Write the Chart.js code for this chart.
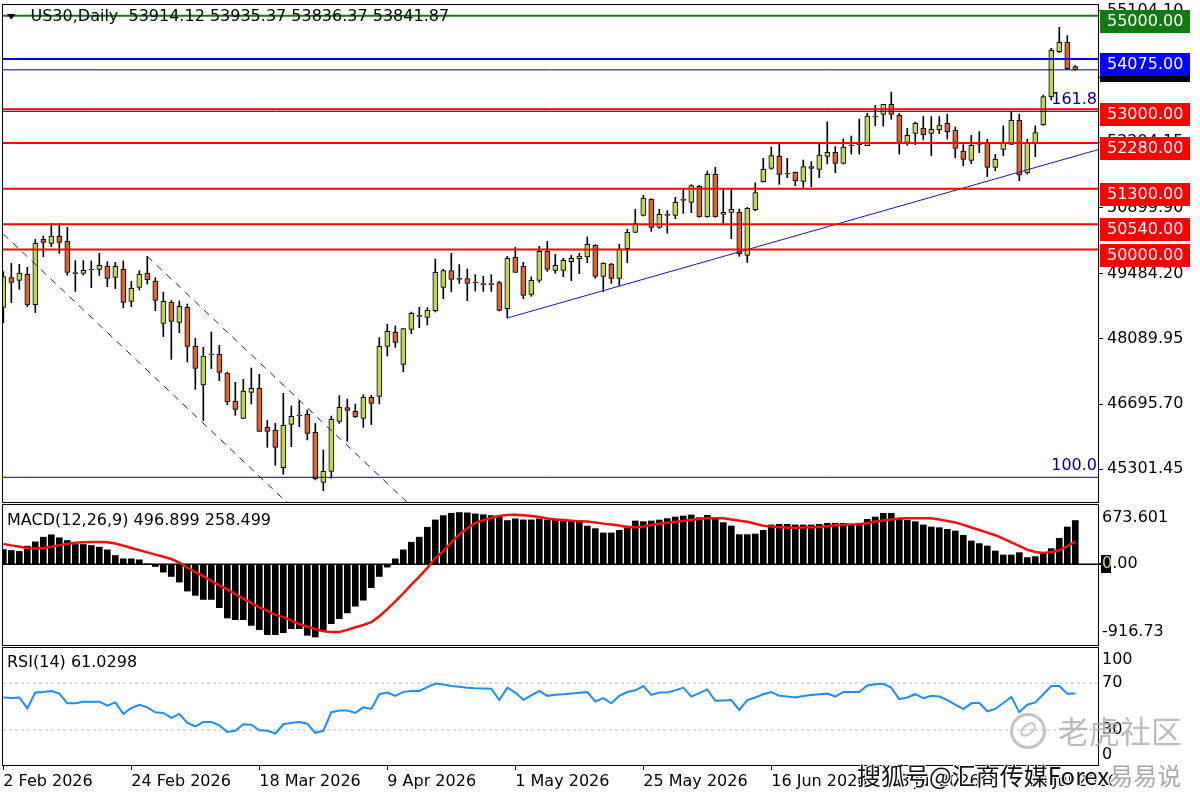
<!DOCTYPE html>
<html>
<head>
<meta charset="utf-8">
<script src="https://cdn.jsdelivr.net/npm/chart.js@4.4.1/dist/chart.umd.min.js"></script>
<style>
  html, body { margin:0; padding:0; background:#fff; }
  body { width:1200px; height:800px; position:relative; overflow:hidden; }
  canvas { position:absolute; left:0; }
  .wm { position:absolute; white-space:nowrap; font-family:"Noto Sans CJK SC", sans-serif; line-height:1; }
</style>
</head>
<body>
<canvas id="cPrice" width="1200" height="503" style="top:0px"></canvas>
<canvas id="cMacd" width="1200" height="145" style="top:503px"></canvas>
<canvas id="cRsi" width="1200" height="154" style="top:646px"></canvas>
<div class="wm" style="left:1010px;top:713px;width:30px;height:30px;border:3px solid rgba(185,185,185,0.85);border-radius:50%;"></div>
<div class="wm" style="left:1019px;top:724px;width:14px;height:7px;border:2px solid rgba(185,185,185,0.85);border-radius:50%;transform:rotate(-40deg);"></div>
<div class="wm" style="left:1058px;top:714px;font-size:31px;color:rgba(170,170,170,0.8);">老虎社区</div>
<div class="wm" style="left:857px;top:763px;font-size:24px;color:#111;text-shadow:1px 1px 0 #fff,-1px -1px 0 #fff,1px -1px 0 #fff,-1px 1px 0 #fff;">搜狐号@汇商传媒Forex<span style="color:#a8a8a8;">易易说</span></div>
<script>
// ---------------- DATA ----------------
const symbolName = 'US30,Daily';

const open = [
  48763, 49398, 49341, 49469, 48820, 50217, 50132, 50282, 50175, 49490,
  49490, 49569, 49576, 49647, 49405, 49576, 48891, 49191, 49497, 49326,
  48421, 48877, 48442, 48763, 47936, 47102, 47758, 47758, 47359, 46753,
  46389, 46945, 47038, 46197, 46140, 45334, 46261, 46453, 46475, 46090,
  45020, 45256, 46325, 46617, 46539, 46389, 46838, 46860, 47929, 48229,
  47544, 48293, 48585, 48549, 48692, 49191, 49547, 49376, 49376, 49298,
  49262, 49262, 49291, 48735, 49832, 49640, 49041, 49341, 49961, 49554,
  49554, 49740, 49804, 49840, 50089, 49426, 49690, 49383, 50018, 50367,
  50731, 51073, 50474, 50745, 50731, 51066, 51009, 51351, 50702, 51607,
  50752, 50795, 50795, 49875, 50852, 51451, 51736, 51992, 51629, 51650,
  51458, 51771, 51715, 51992, 52078, 51843, 52228, 52242, 52221, 52848,
  52891, 53104, 52869, 52292, 52484, 52598, 52484, 52563, 52698, 52549,
  52099, 51907, 52271, 52285, 51757, 52142, 52249, 52762, 51636, 52285,
  52670, 53269, 54231, 54431, 53914.12
];
const high = [
  49526, 49704, 49683, 49619, 50217, 50289, 50560, 50560, 50474, 49761,
  49761, 49754, 49918, 49740, 49725, 49754, 49319, 49547, 49854, 49398,
  49084, 48906, 48899, 48834, 48100, 47908, 48236, 47950, 47380, 47159,
  47223, 47466, 47330, 46346, 46282, 46924, 46653, 46767, 46567, 46282,
  45712, 46439, 46874, 46803, 46696, 46895, 46881, 48114, 48400, 48364,
  48314, 48663, 48763, 48756, 49797, 49576, 49918, 49676, 49583, 49462,
  49426, 49462, 49319, 49854, 50046, 49726, 49412, 50068, 50175, 49897,
  49811, 49875, 49918, 50267, 50103, 49718, 49704, 50110, 50431, 50859,
  51158, 51087, 50859, 50830, 51116, 51301, 51386, 51372, 51679, 51757,
  51301, 51294, 50866, 50902, 51429, 51950, 52192, 52263, 51950, 51657,
  51914, 51878, 52271, 52727, 52199, 52363, 52427, 52791, 52912, 53083,
  53104, 53368, 52912, 52591, 52727, 52848, 52841, 52841, 52891, 52620,
  52242, 52441, 52520, 52356, 52035, 52641, 52941, 52891, 52356, 52641,
  53304, 54302, 54751, 54573, 53935.37
];
const low = [
  48435, 48863, 49148, 48777, 48649, 49847, 50061, 49918, 49448, 49105,
  49455, 49184, 49448, 49205, 49162, 48756, 48777, 49134, 49262, 48692,
  48136, 47651, 48221, 47594, 47009, 46339, 47451, 47195, 46682, 46453,
  46389, 46696, 46111, 45769, 45384, 45192, 45783, 46211, 45926, 45071,
  44842, 45106, 46282, 45897, 46404, 46197, 46254, 46696, 47722, 47908,
  47387, 48200, 48328, 48385, 48663, 48949, 49098, 49276, 48906, 49112,
  49105, 49105, 48685, 48535, 49512, 48949, 48998, 49298, 49533, 49490,
  49419, 49333, 49483, 49718, 49383, 49098, 49276, 49234, 49718, 50360,
  50716, 50388, 50453, 50346, 50659, 50773, 50788, 50688, 50688, 50688,
  50574, 50232, 49854, 49725, 50830, 51444, 51714, 51394, 51536, 51365,
  51330, 51344, 51536, 51829, 51643, 51829, 52042, 52042, 52221, 52648,
  52641, 52784, 52042, 52228, 52242, 52342, 52007, 52477, 52363, 51964,
  51793, 51836, 52071, 51558, 51686, 52007, 52249, 51472, 51615, 51985,
  52655, 53197, 54210, 53846, 53836.37
];
const close = [
  49419, 49298, 49497, 48813, 50132, 50153, 50289, 50153, 49512, 49483,
  49554, 49562, 49661, 49383, 49640, 48870, 49169, 49476, 49348, 48913,
  48891, 48464, 48784, 47929, 47459, 47722, 47744, 47373, 46746, 46582,
  46974, 47031, 46111, 46111, 45769, 46239, 46432, 46439, 46069, 45092,
  45256, 46368, 46625, 46560, 46425, 46838, 46710, 47929, 48250, 48015,
  48307, 48635, 48571, 48699, 49512, 49547, 49362, 49362, 49276, 49284,
  49248, 49248, 48699, 49811, 49512, 49020, 49341, 49961, 49576, 49661,
  49768, 49811, 49861, 50110, 49426, 49704, 49383, 50010, 50367, 50559,
  51101, 50474, 50752, 50731, 51009, 51052, 51365, 50702, 51607, 50702,
  50795, 50859, 49904, 50880, 51215, 51714, 52007, 51607, 51614, 51465,
  51771, 51736, 52021, 52078, 51843, 52192, 52213, 52271, 52855, 52834,
  53104, 52891, 52278, 52442, 52698, 52456, 52570, 52663, 52520, 52164,
  51928, 52228, 52249, 51757, 51928, 52271, 52762, 51593, 52285, 52499,
  53269, 54259, 54431, 53867, 53841.87
];

const macdHist = [
  168, 157, 146, 206, 255, 308, 335, 301, 270, 225,
  225, 214, 195, 164, 100, 62, 62, 51, 6, -25,
  -89, -138, -202, -304, -353, -399, -399, -493, -610, -629,
  -629, -694, -743, -799, -799, -777, -731, -731, -807, -826,
  -750, -674, -617, -552, -476, -408, -265, -138, -32, 62,
  164, 251, 308, 421, 504, 553, 580, 588, 584, 572,
  563, 553, 534, 497, 516, 504, 504, 516, 504, 511,
  500, 492, 484, 435, 405, 356, 356, 386, 435, 492,
  484, 492, 503, 519, 537, 548, 560, 530, 556, 511,
  473, 435, 337, 337, 344, 386, 447, 454, 454, 447,
  447, 447, 454, 466, 466, 466, 454, 466, 511, 537,
  579, 579, 511, 500, 484, 447, 424, 416, 397, 378,
  329, 265, 235, 208, 151, 106, 106, 132, 76, 87,
  114, 178, 295, 424, 496.899
];
const macdSignal = [
  232, 215, 200, 186, 176, 185, 200, 218, 233, 244,
  250, 252, 253, 251, 236, 212, 185, 160, 135, 110,
  85, 60, 20, -40, -90, -135, -190, -240, -285, -340,
  -390, -440, -490, -530, -575, -600, -640, -680, -710, -735,
  -762, -770, -768, -745, -715, -690, -656, -590, -510, -420,
  -330, -230, -140, -40, 70, 150, 250, 340, 410, 470,
  500, 528, 548, 560, 562, 556, 548, 538, 520, 510,
  502, 496, 490, 485, 475, 462, 452, 440, 422, 420,
  430, 446, 460, 472, 482, 492, 505, 515, 522, 524,
  522, 510, 495, 484, 460, 437, 428, 422, 418, 416,
  418, 420, 424, 432, 444, 450, 452, 455, 468, 485,
  498, 510, 520, 524, 524, 523, 522, 510, 492, 476,
  448, 418, 390, 360, 330, 292, 250, 210, 165, 140,
  128, 140, 160, 205, 258.499
];
const rsi = [
  57.7, 57.3, 57.7, 48.5, 62.0, 62.4, 63.3, 61.0, 52.7, 52.7,
  54.0, 54.1, 54.1, 50.7, 53.5, 43.7, 48.7, 51.5, 49.3, 45.1,
  44.5, 40.3, 43.7, 35.9, 33.1, 36.7, 36.7, 33.9, 28.3, 29.2,
  34.8, 34.5, 29.7, 29.2, 26.9, 34.8, 36.0, 36.7, 35.3, 27.5,
  29.2, 45.1, 46.5, 46.5, 44.5, 49.3, 47.9, 60.5, 61.9, 59.1,
  62.5, 63.3, 63.3, 66.5, 69.7, 68.9, 67.5, 66.9, 66.0, 65.5,
  65.3, 65.2, 55.5, 66.1, 61.9, 55.7, 59.5, 63.3, 59.1, 60.0,
  60.5, 61.2, 61.8, 62.4, 54.3, 57.1, 52.7, 59.1, 62.4, 63.8,
  67.5, 59.9, 61.9, 61.9, 63.8, 66.1, 58.5, 61.5, 64.6, 54.9,
  55.2, 55.5, 47.1, 55.5, 57.7, 60.5, 62.4, 59.1, 58.5, 57.7,
  59.0, 59.9, 60.5, 61.0, 58.5, 62.4, 62.4, 62.4, 68.0, 69.0,
  69.4, 66.1, 56.3, 57.7, 60.5, 57.1, 59.1, 58.5, 55.5, 51.5,
  47.9, 52.7, 53.2, 45.9, 47.9, 53.0, 58.2, 45.1, 51.5, 53.5,
  60.5, 67.5, 67.5, 61.0, 61.0298
];

const dateLabels = ['2 Feb 2026', '24 Feb 2026', '18 Mar 2026', '9 Apr 2026', '1 May 2026',
                    '25 May 2026', '16 Jun 2026', '8 Jul 2026', '30 Jul 2026'];
const dateIndex = [0, 16, 32, 48, 64, 80, 96, 112, 128];

const priceTickValues = [45301.45, 46695.70, 48089.95, 49484.20, 50899.90, 52294.15, 53688.40, 55104.10];
const levelValues = [55000, 54075, 53000, 52280, 51300, 50540, 50000];
const fibValues = [45128, 52955];
const fibLabels = ['100.0', '161.8'];
const trendAnchorX = [63, 134];
const trendAnchorY = [48535, 51997];
const channelUpperX = [18, 30];
const channelUpperY = [49854, 47911];
const channelLowerX = [0, 12];
const channelLowerY = [50331, 48388];

const macdAxisValues = [673.601, 0, -916.73];
const macdAxisLabels = ['673.601', '0.00', '-916.73'];
const rsiAxisValues = [100, 70, 30, 0];
const rsiLevels = [70, 30];

// ---------------- STYLE ----------------
const FONT = '16px "DejaVu Sans"';
const BULL = '#c4d455';
const BEAR = '#e3632d';
const FIB_COLOR = '#000080';
const levelColors = ['#127a12', '#0000ff', '#ff0000', '#ff0000', '#ff0000', '#ff0000', '#ff0000'];
const levelWidths = [2, 2, 2, 2, 2, 2, 2];
const X_MIN = -0.04, X_MAX = 136.84;
const PRICE_MIN = 44600, PRICE_MAX = 55229;

Chart.defaults.font.family = '"DejaVu Sans", sans-serif';
Chart.defaults.font.size = 16;
Chart.defaults.color = '#000';

const idx = open.map((_, i) => i);
const clamp = (v, a, b) => Math.max(a, Math.min(b, v));

function hline(v, color, width, dash, order) {
  return { type: 'line', data: [{ x: X_MIN, y: v }, { x: X_MAX, y: v }], borderColor: color,
           borderWidth: width, borderDash: dash || [], pointRadius: 0, order: order === undefined ? -1 : order };
}
function ray(xs, ys, color, width, dash) {
  const s = (ys[1] - ys[0]) / (xs[1] - xs[0]);
  return { type: 'line', data: [{ x: xs[0], y: ys[0] }, { x: X_MAX, y: ys[0] + s * (X_MAX - xs[0]) }],
           borderColor: color, borderWidth: width, borderDash: dash || [], pointRadius: 0, order: -1 };
}
function frame(chart) {
  const { ctx, chartArea: a } = chart;
  ctx.save();
  ctx.strokeStyle = '#000';
  ctx.lineWidth = 1;
  ctx.strokeRect(Math.round(a.left) - 0.5, Math.round(a.top) - 0.5,
                 Math.round(a.right - a.left) + 1, Math.round(a.bottom - a.top) + 1);
  ctx.restore();
}
const rightAxisFit = function (s) { s.width = 102; s.paddingTop = 0; s.paddingBottom = 0; };
const hiddenY = (min, max) => ({
  position: 'right', min: min, max: max, afterFit: rightAxisFit,
  ticks: { display: false }, grid: { display: false }, border: { display: false }
});
const hiddenX = { type: 'linear', min: X_MIN, max: X_MAX, display: false, offset: false };

// ---------------- PRICE PANEL ----------------
const pricePlugin = {
  id: 'priceDecor',
  afterDraw(chart) {
    frame(chart);
    const { ctx, chartArea: a, scales: { y } } = chart;
    const n = close.length - 1;
    ctx.save();
    ctx.font = FONT;
    ctx.textBaseline = 'middle';
    ctx.fillStyle = '#000';
    ctx.beginPath(); ctx.moveTo(7, 14); ctx.lineTo(15.5, 14); ctx.lineTo(11.25, 19.5); ctx.closePath(); ctx.fill();
    ctx.fillText(symbolName + '  ' + open[n].toFixed(2) + ' ' + high[n].toFixed(2) + ' ' +
                 low[n].toFixed(2) + ' ' + close[n].toFixed(2), 30.5, 17);
    ctx.fillStyle = FIB_COLOR;
    ctx.textAlign = 'right';
    fibValues.forEach((v, k) => ctx.fillText(fibLabels[k], a.right - 1, y.getPixelForValue(v) - 11));
    ctx.textAlign = 'left';
    const box = (v, color, dy) => {
      const py = y.getPixelForValue(v);
      ctx.fillStyle = color;
      ctx.fillRect(a.right + 2, Math.round(py + dy), 90, 23);
      ctx.fillStyle = '#fff';
      ctx.fillText(v.toFixed(2), a.right + 9, Math.round(py + dy) + 12);
    };
    box(close[n], '#000', -11);
    levelValues.forEach((v, k) => box(v, levelColors[k], -6));
    ctx.restore();
  }
};

const priceDatasets = [];
levelValues.forEach((v, k) => priceDatasets.push(hline(v, levelColors[k], levelWidths[k])));
priceDatasets.push(hline(close[close.length - 1], FIB_COLOR, 1));
fibValues.forEach(v => priceDatasets.push(hline(v, FIB_COLOR, 1)));
priceDatasets.push(ray(trendAnchorX, trendAnchorY, '#1414b4', 1));
priceDatasets.push(ray(channelUpperX, channelUpperY, '#1a1aa0', 1, [7, 6]));
priceDatasets.push(ray(channelLowerX, channelLowerY, '#1a1aa0', 1, [7, 6]));
priceDatasets.push({
  type: 'bar', data: idx.map(i => ({ x: i, y: [open[i], close[i]] })),
  backgroundColor: idx.map(i => close[i] >= open[i] ? BULL : BEAR),
  borderColor: '#000', borderWidth: 1, borderSkipped: false,
  barThickness: 5, minBarLength: 1, grouped: false, order: 0
});
priceDatasets.push({
  type: 'bar', data: idx.map(i => ({ x: i, y: [low[i], high[i]] })),
  backgroundColor: '#000', borderWidth: 0, barThickness: 1, grouped: false, order: 1
});

new Chart(document.getElementById('cPrice'), {
  type: 'bar',
  data: { datasets: priceDatasets },
  options: {
    responsive: false, animation: false, devicePixelRatio: 1,
    layout: { padding: { top: 5, left: 3, right: 0, bottom: 1 } },
    plugins: { legend: { display: false }, tooltip: { enabled: false } },
    scales: {
      x: hiddenX,
      y: {
        position: 'right', min: PRICE_MIN, max: PRICE_MAX, afterFit: rightAxisFit,
        afterBuildTicks(s) { s.ticks = priceTickValues.map(v => ({ value: v })); },
        ticks: { autoSkip: false, padding: 4, color: '#000', font: { size: 16 },
                 callback: v => Number(v).toFixed(2) },
        grid: { drawOnChartArea: false, tickLength: 5, color: '#000' },
        border: { display: true, color: '#000' }
      }
    }
  },
  plugins: [pricePlugin]
});

// ---------------- MACD PANEL ----------------
const macdPlugin = {
  id: 'macdDecor',
  afterDraw(chart) {
    frame(chart);
    const { ctx, chartArea: a, scales: { y } } = chart;
    const n = macdHist.length - 1;
    ctx.save();
    ctx.font = FONT; ctx.textBaseline = 'middle'; ctx.fillStyle = '#000';
    ctx.fillText('MACD(12,26,9) ' + macdHist[n].toFixed(3) + ' ' + macdSignal[n].toFixed(3), 7, a.top + 16);
    macdAxisValues.forEach((v, k) => {
      const py = clamp(y.getPixelForValue(v), a.top + 13, a.bottom - 13);
      ctx.fillStyle = '#000';
      ctx.fillText(macdAxisLabels[k], a.right + 4, py);
      if (v === 0) {
        ctx.fillRect(a.right, Math.round(py) - 1, 3, 2);
        ctx.fillRect(a.right + 3, Math.round(py) - 9, 10, 18);
        ctx.fillStyle = '#d9cc8a';
        ctx.fillText('0', a.right + 4, py);
      }
    });
    ctx.restore();
  }
};
new Chart(document.getElementById('cMacd'), {
  type: 'bar',
  data: { datasets: [
    { type: 'line', data: idx.map(i => ({ x: i, y: macdSignal[i] })), borderColor: '#f01010',
      borderWidth: 2.5, pointRadius: 0, order: -1 },
    { type: 'bar', data: idx.map(i => ({ x: i, y: macdHist[i] })), backgroundColor: '#000',
      barThickness: 6, grouped: false, order: 0 },
    hline(0, '#000', 1.5, [], 1)
  ] },
  options: {
    responsive: false, animation: false, devicePixelRatio: 1,
    layout: { padding: { top: 2, left: 3, right: 0, bottom: 3 } },
    plugins: { legend: { display: false }, tooltip: { enabled: false } },
    scales: { x: hiddenX, y: hiddenY(macdAxisValues[2], macdAxisValues[0]) }
  },
  plugins: [macdPlugin]
});

// ---------------- RSI PANEL ----------------
const rsiPlugin = {
  id: 'rsiDecor',
  afterDraw(chart) {
    frame(chart);
    const { ctx, chartArea: a, scales: { y } } = chart;
    const n = rsi.length - 1;
    ctx.save();
    ctx.font = FONT; ctx.textBaseline = 'middle'; ctx.fillStyle = '#000';
    ctx.fillText('RSI(14) ' + rsi[n].toFixed(4), 7, a.top + 15);
    rsiAxisValues.forEach(v => {
      const py = clamp(y.getPixelForValue(v), a.top + 12, a.bottom - 10);
      ctx.fillText(String(v), a.right + 4, py);
    });
    ctx.restore();
  }
};
const rsiDatasets = [
  { type: 'line', data: idx.map(i => ({ x: i, y: rsi[i] })), borderColor: '#1e8cf0',
    borderWidth: 2, pointRadius: 0, order: -1 }
];
rsiLevels.forEach(v => rsiDatasets.push(hline(v, '#b8b8b8', 1, [3, 3], 1)));
new Chart(document.getElementById('cRsi'), {
  type: 'line',
  data: { datasets: rsiDatasets },
  options: {
    responsive: false, animation: false, devicePixelRatio: 1,
    layout: { padding: { top: 2, left: 3, right: 0, bottom: 0 } },
    plugins: { legend: { display: false }, tooltip: { enabled: false } },
    scales: {
      x: {
        type: 'linear', position: 'bottom', min: X_MIN, max: X_MAX, offset: false,
        afterBuildTicks(s) { s.ticks = dateIndex.map(v => ({ value: v })); },
        afterFit(s) { s.height = 35; },
        ticks: { autoSkip: false, maxRotation: 0, minRotation: 0, align: 'start', padding: 2,
                 color: '#000', font: { size: 16 }, callback: (v, i) => dateLabels[i] },
        grid: { drawOnChartArea: false, tickLength: 5, color: '#000' },
        border: { display: true, color: '#000' }
      },
      y: hiddenY(0, 100)
    }
  },
  plugins: [rsiPlugin]
});
</script>
</body>
</html>
